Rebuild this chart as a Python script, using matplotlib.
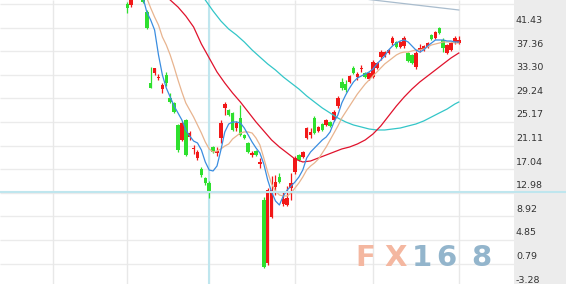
import matplotlib
matplotlib.use('Agg')
import matplotlib.pyplot as plt
from matplotlib.patches import Rectangle
import numpy as np

# ---- candle data ----
opens = [41.43, 41.26, 43.50, 44.20, 43.00, 40.10, 27.82, 29.55, 28.68, 26.79,
         29.20, 25.24, 24.38, 20.59, 18.01, 21.45, 18.52, 16.46, 14.91, 13.01,
         11.46, 10.60, 16.80, 15.77, 18.35, 23.52, 23.17, 22.66, 20.07, 21.79,
         18.87, 17.49, 15.42, 16.11, 13.87, 7.67, -3.18, 4.74, 9.91, 11.63,
         6.98, 6.81, 9.74, 12.49, 15.42, 15.08, 18.35, 18.87, 21.79, 19.56,
         20.76, 20.59, 21.11, 21.45, 23.86, 28.00, 27.65, 28.00, 30.41, 28.86,
         30.23, 29.55, 28.51, 28.86, 30.41, 32.30, 32.47, 32.99, 34.71, 34.89,
         34.02, 34.20, 32.99, 32.65, 30.58, 33.59, 33.51, 34.02, 36.09, 35.57,
         37.30, 35.23, 32.99, 33.51, 34.89, 34.71]
highs = [41.77, 43.00, 44.50, 44.80, 43.30, 40.40, 30.58, 30.49, 29.37, 27.82,
         29.72, 26.10, 24.55, 20.76, 21.28, 21.62, 19.56, 17.15, 16.28, 13.36,
         11.63, 10.94, 16.97, 16.80, 21.45, 24.55, 23.34, 22.83, 21.28, 24.03,
         19.04, 17.66, 16.11, 16.28, 14.91, 8.19, 9.74, 11.81, 11.98, 12.32,
         9.05, 10.08, 12.32, 15.25, 15.59, 16.11, 20.25, 20.07, 22.14, 20.42,
         20.93, 21.62, 21.28, 23.17, 25.59, 28.68, 28.34, 29.20, 30.75, 29.72,
         30.92, 29.72, 29.72, 31.79, 31.44, 33.51, 33.34, 33.68, 35.92, 35.06,
         35.06, 35.92, 33.16, 32.82, 33.34, 34.54, 34.37, 34.89, 36.26, 36.78,
         37.47, 35.57, 34.54, 34.89, 35.92, 35.92]
lows = [39.88, 40.90, 42.80, 42.50, 41.60, 37.12, 26.88, 29.20, 28.34, 26.10,
        27.31, 24.38, 22.66, 15.94, 17.83, 15.25, 18.01, 15.59, 14.56, 11.63,
        10.25, 8.02, 15.77, 15.25, 17.49, 22.31, 22.14, 19.56, 19.56, 18.70,
        18.18, 15.77, 15.08, 15.25, 13.18, -4.04, -3.53, 4.57, 8.53, 10.60,
        6.64, 6.64, 7.67, 12.15, 14.39, 14.91, 18.18, 18.35, 19.04, 19.39,
        19.56, 20.42, 20.25, 21.28, 23.52, 26.62, 26.27, 27.82, 29.37, 28.34,
        29.72, 28.68, 28.34, 28.68, 30.23, 31.79, 32.30, 32.82, 34.37, 33.85,
        33.85, 33.85, 31.44, 31.10, 30.23, 33.16, 33.34, 33.85, 35.23, 35.40,
        36.26, 33.16, 32.82, 33.34, 34.54, 34.54]
closes = [40.74, 42.60, 44.00, 43.00, 41.86, 37.24, 26.96, 30.41, 28.94, 27.48,
          27.82, 24.55, 22.83, 16.28, 20.93, 15.42, 19.21, 16.71, 15.94, 11.98,
          10.60, 9.05, 15.94, 16.11, 20.93, 24.21, 22.31, 19.73, 20.93, 18.87,
          18.35, 15.94, 15.77, 15.42, 14.13, -3.87, 9.39, 9.39, 10.77, 10.77,
          7.84, 8.02, 10.60, 14.91, 14.56, 15.94, 20.07, 19.39, 19.21, 20.25,
          19.73, 21.45, 20.42, 22.83, 25.24, 26.96, 26.62, 29.03, 29.55, 29.37,
          30.49, 28.86, 29.55, 31.44, 31.27, 33.16, 33.16, 33.51, 35.57, 34.02,
          34.89, 35.57, 31.61, 31.27, 32.99, 33.85, 34.20, 34.71, 35.40, 36.61,
          36.44, 33.85, 34.37, 34.71, 35.57, 35.23]

# ---- moving average lines ----
ma5_start = 4
ma5 = [42.6, 40.05, 38.67, 36.95, 32.65, 29.2, 26.96, 25.41, 23.86, 22.66,
       21.45, 19.73, 18.70, 17.83, 17.49, 16.28, 14.22, 12.84, 12.67, 13.53,
       16.28, 19.39, 20.76, 21.11, 21.11, 20.93, 20.07, 18.87, 17.66, 16.63,
       15.77, 13.87, 11.12, 9.05, 7.50, 6.81, 8.36, 9.39, 10.08, 10.77,
       11.63, 12.84, 14.91, 15.94, 16.63, 17.32, 18.01, 18.52, 19.39, 21.11,
       22.31, 24.38, 25.76, 26.96, 28.00, 28.68, 29.03, 29.37, 29.72, 30.23,
       31.10, 31.79, 32.47, 33.51, 34.20, 34.71, 35.06, 35.23, 34.89, 34.20,
       33.51, 33.16, 33.51, 34.20, 34.71, 35.23, 35.23, 35.23, 35.06, 35.06,
       34.89, 34.89]
ma10_start = 5
ma10 = [42.46, 40.74, 39.19, 37.81, 35.75, 34.37, 32.65, 30.58, 28.34, 26.27,
        24.38, 23.17, 21.97, 20.59, 19.21, 17.66, 16.46, 15.94, 16.11, 16.46,
        16.97, 17.32, 18.18, 18.70, 19.21, 19.39, 19.39, 19.21, 18.35, 17.15,
        14.91, 12.49, 10.43, 9.22, 8.53, 8.36, 8.36, 8.88, 9.74, 10.60,
        11.63, 12.84, 13.53, 14.05, 14.73, 15.77, 16.80, 18.01, 19.21, 20.42,
        21.79, 22.83, 23.86, 24.90, 25.93, 26.79, 27.65, 28.34, 29.03, 29.72,
        30.41, 31.10, 31.61, 32.13, 32.65, 32.99, 33.16, 33.16, 33.34, 33.51,
        33.51, 33.68, 34.02, 34.37, 34.54, 34.71, 34.89, 34.89, 34.89, 34.71,
        34.71]
ma20_idx = [10, 11, 13, 15, 17, 19, 21, 23, 25, 27, 29, 31, 33, 35, 37, 39, 41,
            43, 45, 47, 49, 51, 53, 55, 57, 59, 61, 63, 65, 67, 69, 71, 73, 75,
            77, 79, 81, 83, 85]
ma20 = [42.81, 42.12, 40.91, 39.36, 37.47, 34.54, 32.13, 29.72, 27.82, 26.10,
        24.55, 22.83, 21.11, 19.56, 18.01, 16.80, 15.77, 14.73, 14.22, 14.39,
        14.91, 15.42, 15.94, 16.46, 16.80, 17.32, 18.01, 19.04, 20.42, 22.14,
        23.86, 25.41, 26.79, 28.00, 29.03, 30.06, 31.10, 32.13, 32.99]
ma60_idx = [19, 20, 22, 24, 26, 28, 30, 32, 34, 36, 38, 40, 42, 44, 46, 48, 50,
            52, 54, 56, 58, 60, 62, 64, 66, 68, 70, 72, 74, 76, 78, 80, 82, 84, 85]
ma60 = [42.81, 42.12, 40.22, 38.50, 37.12, 36.09, 34.89, 33.51, 32.30, 31.10,
        30.06, 28.86, 27.82, 26.79, 25.59, 24.55, 23.52, 22.66, 21.79, 21.11,
        20.59, 20.25, 19.90, 19.73, 19.73, 19.90, 20.07, 20.42, 20.76, 21.28,
        21.97, 22.66, 23.34, 24.21, 24.55]
ma120_idx = [62, 74, 85]
ma120 = [42.2, 41.26, 40.40]

y_tick_values = [41.43, 37.36, 33.30, 29.24, 25.17, 21.11, 17.04, 12.98, 8.92,
                 4.85, 0.79, -3.28]
y_tick_labels = ["41.43", "37.36", "33.30", "29.24", "25.17", "21.11", "17.04",
                 "12.98", "8.92", "4.85", "0.79", "-3.28"]
grid_idx = [-19, 0, 21, 43, 63, 85]
cursor_idx = 21

UP = '#f21818'
DOWN = '#2ee02e'

fig = plt.figure(figsize=(5.66, 2.84), dpi=100)
fig.patch.set_facecolor('white')
ax = fig.add_axes([0, 0, 1, 1])
ax.set_xlim(-32.64, 112.49)
ax.set_ylim(-6.798, 42.119)
ax.axis('off')

panel_x = 514 / 566

# grid
ax.hlines(y_tick_values, 0, panel_x, transform=ax.get_yaxis_transform(),
          color='#ebebeb', lw=1.0, zorder=0)
ax.vlines(grid_idx, 0, 1, transform=ax.get_xaxis_transform(),
          color='#e8e8e8', lw=1.0, zorder=0)

# crosshair
ax.axvline(cursor_idx, color='#bfe6ee', lw=1.5, zorder=1)
ax.axhline(closes[cursor_idx], color='#bfe6ee', lw=1.5, zorder=4)

# candles
o = np.array(opens); h = np.array(highs); l = np.array(lows); c = np.array(closes)
idx = np.arange(len(o))
colors = np.where(c >= o, UP, DOWN)
ax.vlines(idx, l, h, colors=colors, lw=0.9, zorder=2)
body_h = np.where(np.abs(c - o) < 0.2, 0.2 * np.sign(c - o + 1e-9), c - o)
ax.bar(idx, body_h, bottom=o, width=0.9, color=colors, linewidth=0, zorder=2)

# moving averages
ax.plot(ma120_idx, ma120, color='#a9bccd', lw=0.9, zorder=3)
ax.plot(ma60_idx, ma60, color='#33c6c8', lw=0.9, zorder=3)
ax.plot(ma20_idx, ma20, color='#e0122c', lw=0.9, zorder=3)
ax.plot(np.arange(ma10_start, ma10_start + len(ma10)), ma10,
        color='#e8b48f', lw=0.9, zorder=3)
ax.plot(np.arange(ma5_start, ma5_start + len(ma5)), ma5,
        color='#3a8de0', lw=0.9, zorder=3)

# right price panel
ax.add_patch(Rectangle((panel_x, 0), 1 - panel_x, 1, transform=ax.transAxes,
                       facecolor='#ececec', edgecolor='none', zorder=3.5))
for v, s in zip(y_tick_values, y_tick_labels):
    ax.annotate(s, xy=(516 / 566, v), xycoords=('axes fraction', 'data'),
                xytext=(0, -11.9), textcoords='offset points',
                ha='left', va='center', fontsize=6.8, color='#333333',
                family='DejaVu Sans', zorder=5)

# watermark
wm_chars = ["F", "X", "1", "6", "8"]
wm_x = [365.5, 395.5, 421.5, 446.0, 481.5]
wm_cols = ['#f4b7a0', '#f4b7a0', '#93b5cc', '#93b5cc', '#93b5cc']
for ch, xp, col in zip(wm_chars, wm_x, wm_cols):
    fig.text(xp / 566, 1 - 257.5 / 284, ch, ha='center', va='center',
             fontsize=21, fontweight='bold', color=col, family='DejaVu Sans',
             zorder=6)

fig.savefig('out.png', dpi=100, facecolor='white')
